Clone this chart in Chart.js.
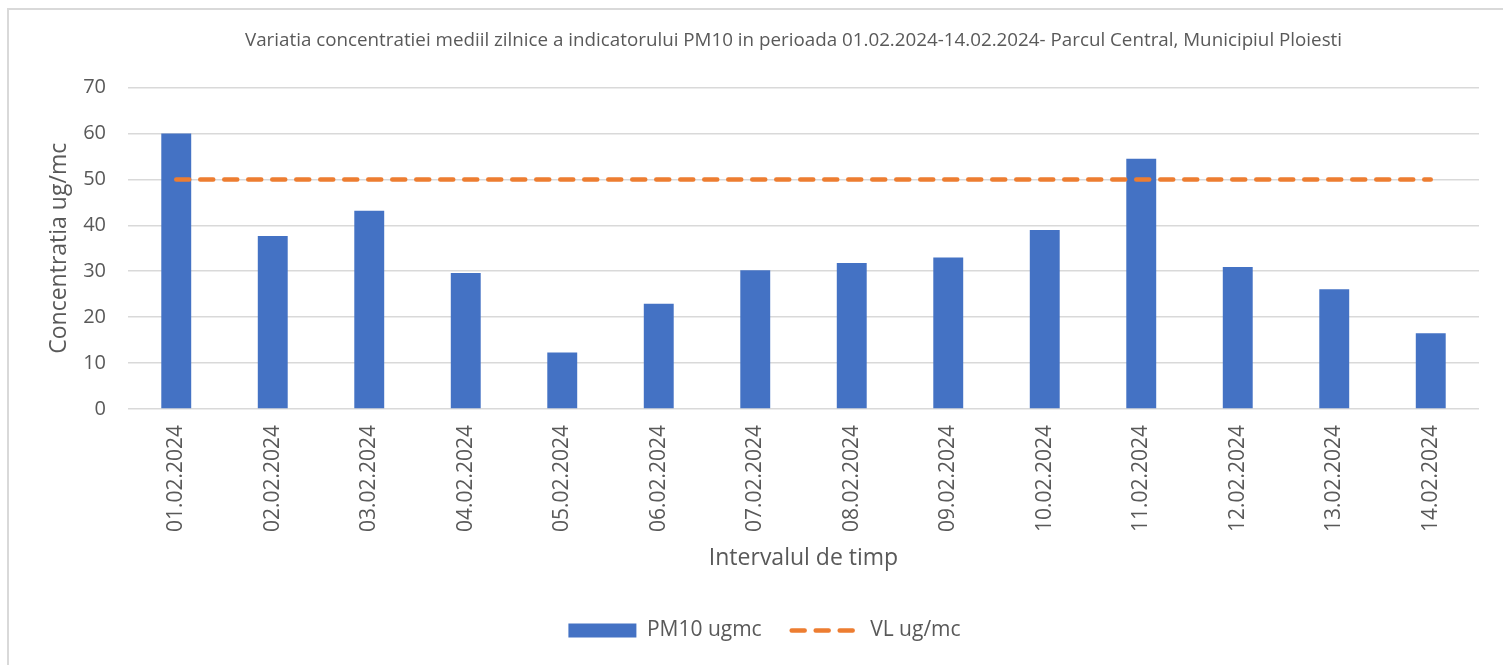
<!DOCTYPE html>
<html>
<head>
<meta charset="utf-8">
<script src="https://cdn.jsdelivr.net/npm/chart.js@4/dist/chart.umd.min.js"></script>
<style>
  body { margin: 0; background: #fff; overflow: hidden; }
  #frame { position: absolute; left: 7px; top: 8px; width: 1520px; height: 680px; border: 2px solid #d9d9d9; box-sizing: border-box; }
  #pmChart { position: absolute; left: 0; top: 0; }
</style>
</head>
<body>
<div id="frame"></div>
<canvas id="pmChart" width="1503" height="665"></canvas>
<script>
// date labels (x axis)
const zile = ['01.02.2024', '02.02.2024', '03.02.2024', '04.02.2024', '05.02.2024', '06.02.2024', '07.02.2024',
              '08.02.2024', '09.02.2024', '10.02.2024', '11.02.2024', '12.02.2024', '13.02.2024', '14.02.2024'];
// daily mean PM10, ug/mc
const pm10 = [60.0, 37.7, 43.2, 29.6, 12.3, 22.9, 30.2, 31.8, 33.0, 39.0, 54.5, 30.9, 26.1, 16.5];
// limit value
const vl = [50, 50, 50, 50, 50, 50, 50, 50, 50, 50, 50, 50, 50, 50];
const yTicks = [0, 10, 20, 30, 40, 50, 60, 70];

const textColor = '#595959';
const fontFam = '"Open Sans", "Noto Sans", sans-serif';
const vlDash = [13, 11];

const ctx = document.getElementById('pmChart').getContext('2d');

// title and legend sit a bit right of the canvas centre in the original
const shiftBoxes = {
    id: 'shiftBoxes',
    afterLayout(chart) {
        if (chart.titleBlock) chart.titleBlock.right += 108;
        if (chart.legend) chart.legend.right += 50;
    }
};

new Chart(ctx, {
    data: {
        labels: zile,
        datasets: [{
            type: 'bar',
            label: 'PM10 ugmc',
            data: pm10,
            backgroundColor: '#4472C4',
            borderWidth: 0,
            barPercentage: 0.31,
            categoryPercentage: 1,
            order: 1
        }, {
            type: 'line',
            label: 'VL ug/mc',
            data: vl,
            borderColor: '#ED7D31',
            backgroundColor: '#ED7D31',
            borderWidth: 4.5,
            borderDash: vlDash,
            borderCapStyle: 'round',
            pointRadius: 0,
            fill: false,
            order: 0
        }]
    },
    options: {
        responsive: false,
        animation: false,
        layout: { padding: { left: 0, right: 24, top: 0, bottom: 14 } },
        plugins: {
            tooltip: { enabled: false },
            title: {
                display: true,
                text: 'Variatia concentratiei mediil zilnice a indicatorului PM10 in perioada 01.02.2024-14.02.2024- Parcul Central, Municipiul Ploiesti',
                color: textColor,
                font: { family: fontFam, size: 18.8, weight: 'normal' },
                padding: { top: 29, bottom: 36 }
            },
            legend: {
                position: 'bottom',
                labels: {
                    color: textColor,
                    font: { family: fontFam, size: 21 },
                    usePointStyle: true,
                    pointStyleWidth: 68,
                    boxHeight: 14,
                    padding: 30,
                    generateLabels: function(chart) {
                        const items = Chart.defaults.plugins.legend.labels.generateLabels(chart);
                        items.sort((a, b) => a.datasetIndex - b.datasetIndex);
                        items.forEach(item => {
                            if (item.datasetIndex === 0) {
                                item.pointStyle = 'rect';
                                item.lineWidth = 0;
                            } else {
                                item.pointStyle = 'line';
                                item.strokeStyle = '#ED7D31';
                                item.lineWidth = 4.5;
                                item.lineDash = vlDash;
                                item.lineCap = 'round';
                            }
                        });
                        return items;
                    }
                }
            }
        },
        scales: {
            x: {
                grid: { display: false, drawTicks: false },
                border: { display: false },
                ticks: {
                    color: textColor,
                    font: { family: fontFam, size: 21 },
                    minRotation: 90,
                    maxRotation: 90,
                    padding: 16
                },
                title: {
                    display: true,
                    text: 'Intervalul de timp',
                    color: textColor,
                    font: { family: fontFam, size: 23 },
                    padding: { top: 0, bottom: 18 }
                },
                afterFit: function(scale) { scale.height = 181; }
            },
            y: {
                min: 0,
                max: 70,
                afterBuildTicks: function(scale) { scale.ticks = yTicks.map(v => ({ value: v })); },
                grid: { color: '#d9d9d9', lineWidth: 1.5, drawTicks: false },
                border: { display: false },
                ticks: {
                    color: textColor,
                    font: { family: fontFam, size: 20 },
                    padding: 22
                },
                title: {
                    display: true,
                    text: 'Concentratia ug/mc',
                    color: textColor,
                    font: { family: fontFam, size: 23 },
                    padding: { top: 46, bottom: 0 }
                },
                afterFit: function(scale) { scale.width = 128; }
            }
        }
    },
    plugins: [shiftBoxes]
});
</script>
</body>
</html>
